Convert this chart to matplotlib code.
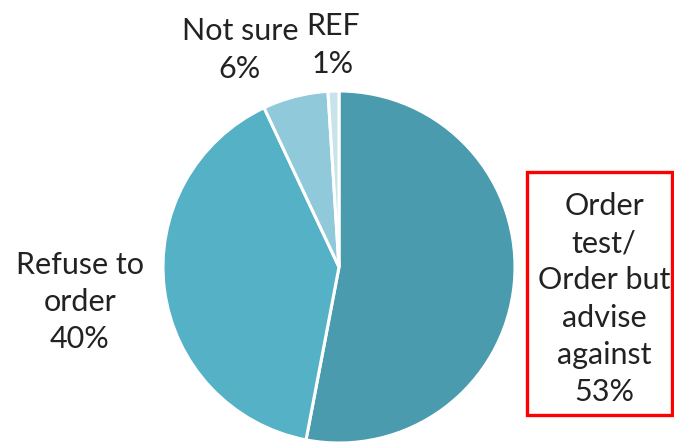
import matplotlib.pyplot as plt
from matplotlib.patches import Rectangle

labels = ["Order\ntest/\nOrder but\nadvise\nagainst", "Refuse to\norder", "Not sure", "REF"]
values = [53, 40, 6, 1]
colors = ["#4A9BAD", "#55B1C6", "#8FC9DA", "#C9E3EC"]

W, H = 674, 447
fig = plt.figure(figsize=(W / 100, H / 100), dpi=100)
ax = fig.add_axes([0, 0, 1, 1])

cx, cy, r = 339, H - 267, 176
ax.pie(values, colors=colors, startangle=90, counterclock=False,
       center=(cx, cy), radius=r, frame=True,
       wedgeprops=dict(edgecolor="white", linewidth=2.2))
ax.set_xlim(0, W)
ax.set_ylim(0, H)
ax.axis("off")

font = dict(family="Lato", fontsize=22, color="#222222",
            ha="center", va="center", linespacing=1.4)

# label anchor positions (centre of each text block)
label_pos = [(604, H - 299), (80, H - 302), (240, H - 50), (333, H - 45)]
for lab, val, (x, y) in zip(labels, values, label_pos):
    ax.text(x, y, f"{lab}\n{val}%", **font)

ax.add_patch(Rectangle((527, H - 415), 145, 243, fill=False,
                       edgecolor="#FF0000", linewidth=2.4))

fig.savefig("out.png", dpi=100)
